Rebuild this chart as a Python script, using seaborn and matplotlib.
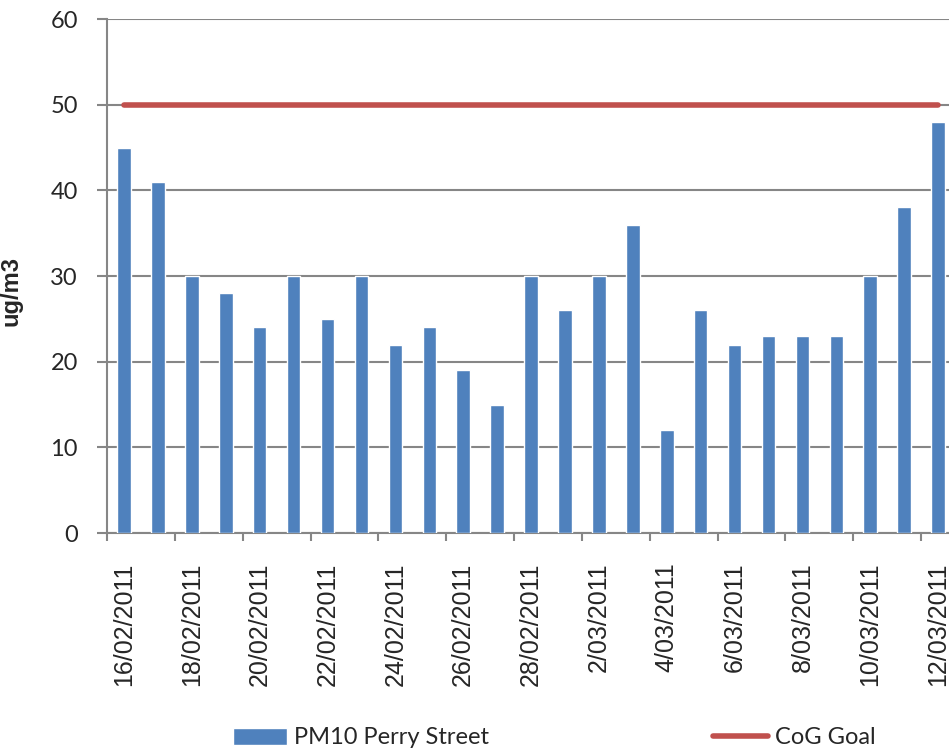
import numpy as np
import pandas as pd
import matplotlib.pyplot as plt
import seaborn as sns
from matplotlib.ticker import FixedLocator

# Daily values
dates = [
    "16/02/2011", "17/02/2011", "18/02/2011", "19/02/2011", "20/02/2011",
    "21/02/2011", "22/02/2011", "23/02/2011", "24/02/2011", "25/02/2011",
    "26/02/2011", "27/02/2011", "28/02/2011", "1/03/2011", "2/03/2011",
    "3/03/2011", "4/03/2011", "5/03/2011", "6/03/2011", "7/03/2011",
    "8/03/2011", "9/03/2011", "10/03/2011", "11/03/2011", "12/03/2011",
]
pm10 = [45, 41, 30, 28, 24, 30, 25, 30, 22, 24, 19, 15, 30, 26, 30,
        36, 12, 26, 22, 23, 23, 23, 30, 38, 48]
goal_value = 50
goal = [goal_value] * len(dates)

df = pd.DataFrame({"Date": dates, "PM10": pm10, "Goal": goal})
df["pos"] = np.arange(len(df))

sns.set_style("white")
plt.rcParams["font.family"] = ["Liberation Sans", "DejaVu Sans"]

grid_col = "#868686"
bar_col = "#4F81BD"
line_col = "#C0504D"

fig = plt.figure(figsize=(9.49, 7.55), dpi=100)
ax = fig.add_axes([0.1128, 0.294, 0.8936, 0.6808])

sns.barplot(data=df, x="pos", y="PM10", width=0.4, color=bar_col,
            saturation=1, ax=ax, label="PM10 Perry Street", zorder=3,
            native_scale=True)
sns.lineplot(data=df, x="pos", y="Goal", color=line_col, linewidth=4,
             ax=ax, label="CoG Goal", zorder=4,
             solid_capstyle="round")

ax.set_xlim(-0.5, len(dates) - 0.5)
ax.set_ylim(0, 60)
ax.set_yticks(range(0, 61, 10))
ax.yaxis.grid(True, color=grid_col, linewidth=1.5)
ax.set_axisbelow(True)

# tick marks between categories, labels on every 2nd category
ax.xaxis.set_major_locator(FixedLocator(np.arange(-0.5, len(dates), 2)))
ax.set_xticklabels([])
ax.xaxis.set_minor_locator(FixedLocator(df["pos"][::2]))
ax.set_xticklabels(df["Date"][::2], minor=True, rotation=90,
                   fontsize=18, va="top",
                   family=["Liberation Sans", "DejaVu Sans"])
ax.tick_params(axis="x", which="major", length=6, width=1.5,
               color=grid_col, direction="out", bottom=True)
ax.tick_params(axis="x", which="minor", length=0, pad=21)
ax.tick_params(axis="y", length=7, width=1.5, color=grid_col,
               direction="out", left=True, pad=14)
for t in ax.get_yticklabels():
    t.set_family(["Lato", "DejaVu Sans"])
    t.set_fontsize(17)

for s in ["top", "right"]:
    ax.spines[s].set_visible(False)
for s in ["left", "bottom"]:
    ax.spines[s].set_color(grid_col)
    ax.spines[s].set_linewidth(1.5)

ax.set_xlabel("")
ax.set_ylabel("ug/m3", fontsize=17, fontweight="bold")
ax.yaxis.set_label_coords(-0.1, 0.47)

handles, labels = ax.get_legend_handles_labels()
ax.get_legend().remove()
order = [labels.index("PM10 Perry Street"), labels.index("CoG Goal")]
fig.legend([handles[i] for i in order], [labels[i] for i in order],
           loc="center", ncol=2,
           bbox_to_anchor=(554 / 949, 1 - 738 / 755), frameon=False,
           prop={"family": ["Lato", "DejaVu Sans"], "size": 17},
           handlelength=2.3, handletextpad=0.3, columnspacing=9.5)

fig.savefig("out.png", dpi=100)
